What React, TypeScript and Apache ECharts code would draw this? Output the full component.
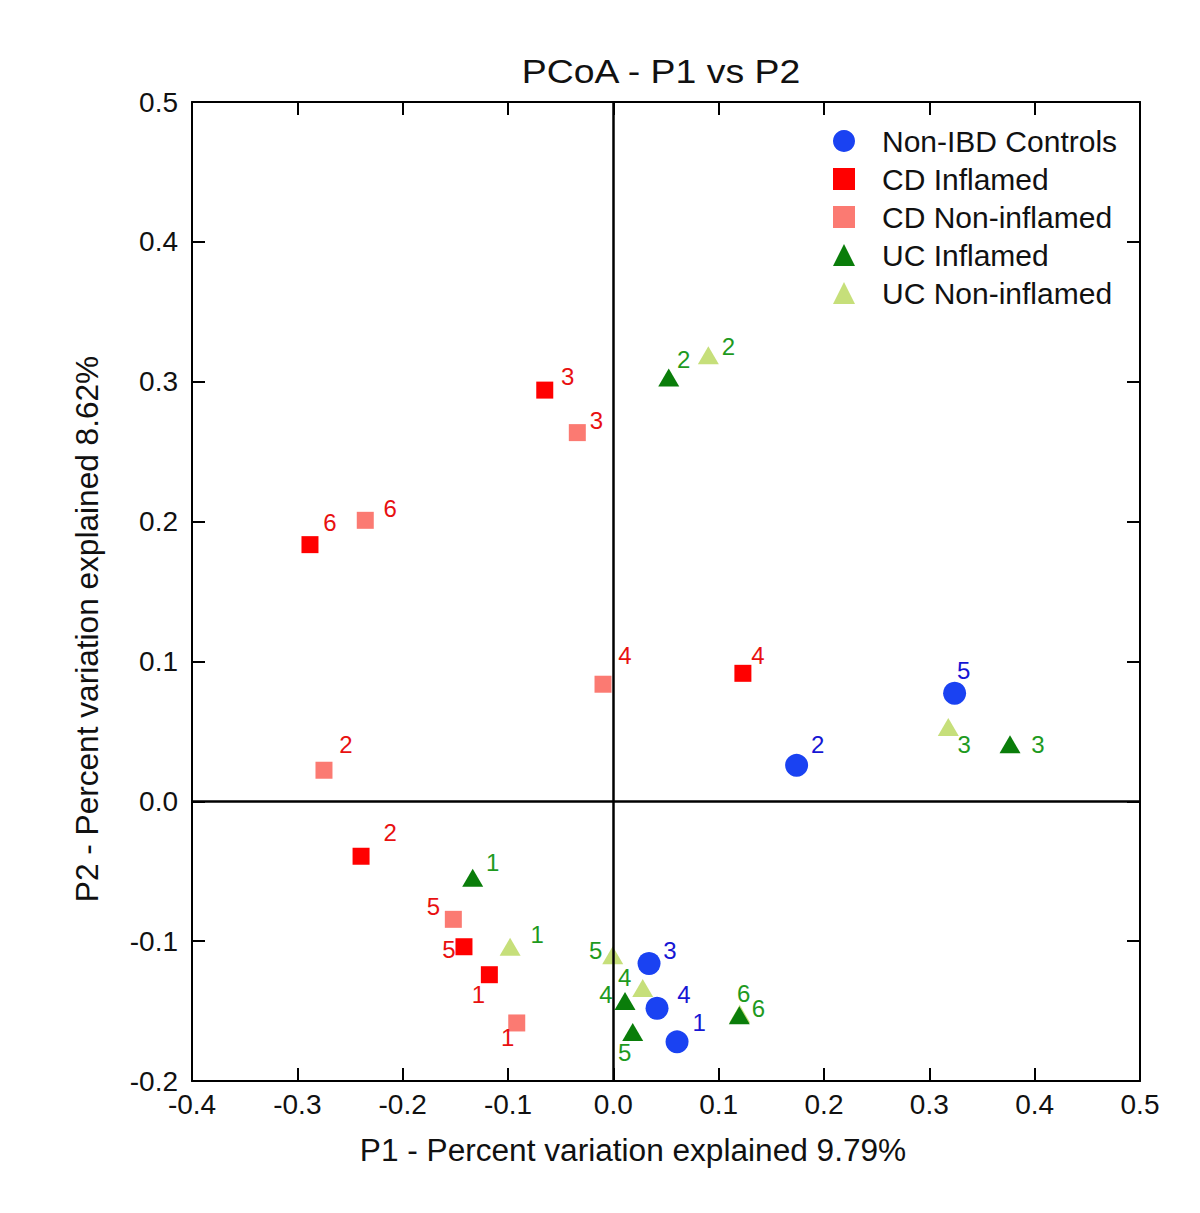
import React, { useEffect, useRef } from "react";
import * as echarts from "echarts";

// ---- data ----
const controlsX = [0.0605, 0.174, 0.0339, 0.0415, 0.324];
const controlsY = [-0.172, 0.0257, -0.116, -0.148, 0.0772];
const controlsIds = ["1", "2", "3", "4", "5"];

const cdInfX = [-0.1177, -0.2395, -0.0651, 0.123, -0.1418, -0.288];
const cdInfY = [-0.124, -0.0393, 0.294, 0.0915, -0.104, 0.1835];
const cdInfIds = ["1", "2", "3", "4", "5", "6"];

const cdNonX = [-0.0917, -0.2747, -0.0342, -0.0098, -0.1519, -0.2355];
const cdNonY = [-0.1585, 0.0222, 0.2636, 0.0837, -0.0844, 0.2009];
const cdNonIds = ["1", "2", "3", "4", "5", "6"];

const ucInfX = [-0.1335, 0.0526, 0.3766, 0.0111, 0.0184, 0.1196];
const ucInfY = [-0.0546, 0.303, 0.0408, -0.1428, -0.165, -0.153];
const ucInfIds = ["1", "2", "3", "4", "5", "6"];

const ucNonX = [-0.098, 0.0902, 0.318, 0.0279, -0.0006, 0.12];
const ucNonY = [-0.104, 0.319, 0.0531, -0.1335, -0.11, -0.152];
const ucNonIds = ["1", "2", "3", "4", "5", "6"];

const seriesNames = [
  "Non-IBD Controls",
  "CD Inflamed",
  "CD Non-inflamed",
  "UC Inflamed",
  "UC Non-inflamed",
];

// ---- label placement (layout only) ----
const controlsLabelOffsets = [[22, -19], [21, -21], [21, -13], [27, -14], [9, -23]];
const cdInfLabelOffsets = [[-11, 20], [29, -24], [23, -14], [15, -18], [-15, 3], [20, -22]];
const cdNonLabelOffsets = [[-9, 15], [22, -26], [19, -12], [22, -29], [-20, -13], [25, -12]];
const ucInfLabelOffsets = [[20, -15], [15, -18], [28, 0], [-19, -7], [-8, 20], [19, -7]];
const ucNonLabelOffsets = [[27, -12], [20, -9], [16, 17], [-18, -10], [-17, -5], [4, -20]];

const FONT = '"Liberation Sans", Arial, Helvetica, sans-serif';

function build(xs: number[], ys: number[], ids: string[], offs: number[][]) {
  return xs.map((x, i) => ({
    value: [x, ys[i]],
    name: ids[i],
    label: { offset: offs[i] },
  }));
}

const fmt = (v: number) => (Math.abs(v) < 1e-9 ? "0.0" : v.toFixed(1));

export default function App() {
  const ref = useRef<HTMLDivElement>(null);

  useEffect(() => {
    if (!ref.current) return;
    const chart = echarts.init(ref.current, null, { renderer: "svg" });

    const labelBase = (color: string) => ({
      show: true,
      position: "inside",
      formatter: (p: any) => p.name,
      color,
      fontSize: 24,
      fontFamily: FONT,
    });

    const commonAxis = {
      axisLine: { show: true, onZero: false, lineStyle: { color: "#000", width: 2 } },
      axisTick: { show: true, inside: true, length: 13, lineStyle: { color: "#000", width: 2 } },
      splitLine: { show: false },
    };

    chart.setOption({
      animation: false,
      backgroundColor: "#fff",
      graphic: [
        {
          type: "text",
          x: 661,
          y: 72,
          scaleX: 1.1,
          style: {
            text: "PCoA - P1 vs P2",
            fontSize: 34,
            fontFamily: FONT,
            fill: "#111",
            align: "center",
            verticalAlign: "middle",
          },
        },
        {
          type: "text",
          x: 633,
          y: 1151,
          scaleX: 1.02,
          style: {
            text: "P1 - Percent variation explained 9.79%",
            fontSize: 31,
            fontFamily: FONT,
            fill: "#111",
            align: "center",
            verticalAlign: "middle",
          },
        },
        {
          type: "text",
          x: 88,
          y: 629,
          rotation: Math.PI / 2,
          scaleX: 1.02,
          style: {
            text: "P2 - Percent variation explained 8.62%",
            fontSize: 31,
            fontFamily: FONT,
            fill: "#111",
            align: "center",
            verticalAlign: "middle",
          },
        },
      ],
      legend: {
        orient: "vertical",
        left: 828,
        top: 121,
        itemWidth: 22,
        itemHeight: 22,
        itemGap: 8,
        data: seriesNames,
        textStyle: {
          fontSize: 30,
          fontFamily: FONT,
          color: "#111",
          padding: [0, 0, 0, 22],
        },
      },
      grid: {
        left: 192,
        right: 60,
        top: 102,
        bottom: 132,
        containLabel: false,
        outerBoundsMode: "none",
      },
      xAxis: [
        {
          type: "value",
          min: -0.4,
          max: 0.5,
          interval: 0.1,
          position: "bottom",
          ...commonAxis,
          axisLabel: {
            show: true,
            margin: 9,
            fontSize: 28,
            fontFamily: FONT,
            color: "#111",
            formatter: fmt,
          },
        },
        {
          type: "value",
          min: -0.4,
          max: 0.5,
          interval: 0.1,
          position: "top",
          ...commonAxis,
          axisLabel: { show: false },
        },
      ],
      yAxis: [
        {
          type: "value",
          min: -0.2,
          max: 0.5,
          interval: 0.1,
          position: "left",
          ...commonAxis,
          axisLabel: {
            show: true,
            margin: 14,
            fontSize: 28,
            fontFamily: FONT,
            color: "#111",
            formatter: fmt,
          },
        },
        {
          type: "value",
          min: -0.2,
          max: 0.5,
          interval: 0.1,
          position: "right",
          ...commonAxis,
          axisLabel: { show: false },
        },
      ],
      series: [
        {
          name: seriesNames[0],
          type: "scatter",
          symbol: "circle",
          symbolSize: 23,
          itemStyle: { color: "#1a42f2", opacity: 1 },
          label: labelBase("#1616d4"),
          data: build(controlsX, controlsY, controlsIds, controlsLabelOffsets),
          z: 3,
          markLine: {
            silent: true,
            symbol: "none",
            label: { show: false },
            lineStyle: { color: "#000", width: 2.5, type: "solid" },
            data: [{ xAxis: 0 }, { yAxis: 0 }],
            z: 5,
          },
        },
        {
          name: seriesNames[1],
          type: "scatter",
          symbol: "rect",
          symbolSize: 17,
          itemStyle: { color: "#ff0000", opacity: 1 },
          label: labelBase("#e81010"),
          data: build(cdInfX, cdInfY, cdInfIds, cdInfLabelOffsets),
          z: 3,
        },
        {
          name: seriesNames[2],
          type: "scatter",
          symbol: "rect",
          symbolSize: 17,
          itemStyle: { color: "#fb7a72", opacity: 1 },
          label: labelBase("#e81010"),
          data: build(cdNonX, cdNonY, cdNonIds, cdNonLabelOffsets),
          z: 3,
        },
        {
          name: seriesNames[3],
          type: "scatter",
          symbol: "triangle",
          symbolSize: [21, 18],
          itemStyle: { color: "#0a7d0a", opacity: 1 },
          label: labelBase("#1e9a1e"),
          data: build(ucInfX, ucInfY, ucInfIds, ucInfLabelOffsets),
          z: 4,
        },
        {
          name: seriesNames[4],
          type: "scatter",
          symbol: "triangle",
          symbolSize: [21, 18],
          itemStyle: { color: "#c6df7a", opacity: 1 },
          label: labelBase("#1e9a1e"),
          data: build(ucNonX, ucNonY, ucNonIds, ucNonLabelOffsets),
          z: 3,
        },
      ],
    });

    return () => chart.dispose();
  }, []);

  return <div ref={ref} style={{ width: 1200, height: 1213, margin: -8 }} />;
}
